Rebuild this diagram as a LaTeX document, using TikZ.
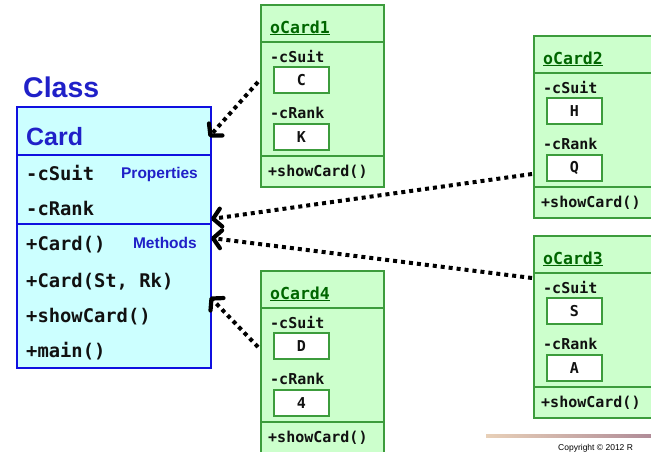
\documentclass[tikz,border=0pt]{standalone}
\usepackage{fontspec}
\setmainfont{Liberation Sans}
\newfontfamily\codefont{DejaVu Sans Mono}
\usetikzlibrary{arrows.meta}

\definecolor{classfill}{HTML}{CCFFFF}
\definecolor{classline}{HTML}{1010E0}
\definecolor{classblue}{HTML}{2020C8}
\definecolor{objfill}{HTML}{CCFFCC}
\definecolor{objline}{HTML}{3C9C3C}
\definecolor{objtitle}{HTML}{006600}
\definecolor{codeink}{HTML}{111111}
\definecolor{barleft}{HTML}{E8D0B8}
\definecolor{barright}{HTML}{B08C98}

\tikzset{
  classbox/.style={draw=classline, fill=classfill, line width=2pt, inner sep=0pt},
  objbox/.style={draw=objline, fill=objfill, line width=2pt, inner sep=0pt},
  objrule/.style={draw=objline, line width=2pt},
  classrule/.style={draw=classline, line width=2pt},
  valbox/.style={draw=objline, fill=white, line width=2.6pt, minimum width=55pt,
    minimum height=26pt, inner sep=0pt, font=\codefont\bfseries\fontsize{15}{17}\selectfont, text=codeink},
  heading/.style={inner sep=0pt, anchor=base west, text=classblue, font=\bfseries\fontsize{28.5}{32}\selectfont},
  classname/.style={inner sep=0pt, anchor=base west, text=classblue, font=\bfseries\fontsize{25}{28}\selectfont},
  tag/.style={inner sep=0pt, anchor=base east, text=classblue, font=\bfseries\fontsize{15.5}{18}\selectfont},
  member/.style={inner sep=0pt, anchor=base west, text=codeink, font=\codefont\bfseries\fontsize{18.8}{22}\selectfont},
  field/.style={inner sep=0pt, anchor=base west, text=codeink, font=\codefont\bfseries\fontsize{15}{17}\selectfont},
  objname/.style={inner sep=0pt, anchor=base west, text=objtitle, font=\codefont\bfseries\fontsize{16.5}{19}\selectfont},
  link/.style={line width=4pt, dash pattern=on 4pt off 4pt,
    -{Straight Barb[length=8pt,width=18pt,line width=4.2pt,round]}},
}

% One object instance: name, left x, top y, title, suit, rank
\newcommand\objcard[6]{%
  \begin{scope}[shift={(#2,#3)}]
    \node[objbox, anchor=north west, minimum width=123pt, minimum height=182pt] (#1) at (0,0) {};
    \draw[objrule] (0,38) -- (123,38);
    \draw[objrule] (0,152) -- (123,152);
    \node[objname] (#1-title) at (10,29) {\underline{#4}};
    \node[field] (#1-suitlabel) at (10,58) {-cSuit};
    \node[valbox] (#1-suit) at (41.5,76) {#5};
    \node[field] (#1-ranklabel) at (10,114) {-cRank};
    \node[valbox] (#1-rank) at (41.5,133) {#6};
    \node[field] (#1-method) at (8,172) {+showCard()};
  \end{scope}}

\begin{document}
\begin{tikzpicture}[x=1pt,y=-1pt]
  \useasboundingbox (0,0) rectangle (651,451);
  \clip (0,0) rectangle (651,451);

  % the class
  \node[heading] (classlabel) at (23,97) {Class};
  \node[classbox, anchor=north west, minimum width=194pt, minimum height=261pt] (card) at (16,106) {};
  \draw[classrule] (16,155) -- (210,155);
  \draw[classrule] (16,224) -- (210,224);
  \node[classname] (cardname) at (26,145) {Card};
  \node[member] (m1) at (26,180) {-cSuit};
  \node[member] (m2) at (26,215) {-cRank};
  \node[member] (m3) at (26,250) {+Card()};
  \node[member] (m4) at (26,287) {+Card(St, Rk)};
  \node[member] (m5) at (26,322) {+showCard()};
  \node[member] (m6) at (26,357) {+main()};
  \node[tag] (props) at (198,178) {Properties};
  \node[tag] (meths) at (197,248) {Methods};

  % the objects
  \objcard{o1}{260}{4}{oCard1}{C}{K}
  \objcard{o2}{533}{35}{oCard2}{H}{Q}
  \objcard{o3}{533}{235}{oCard3}{S}{A}
  \objcard{o4}{260}{270}{oCard4}{D}{4}

  % instance-of links
  \coordinate (s1) at (258,82);
  \coordinate (e1) at (209,137);
  \coordinate (s2) at (532,174);
  \coordinate (e2) at (211,219);
  \coordinate (s3) at (532,278);
  \coordinate (e3) at (211,238);
  \coordinate (s4) at (258,347);
  \coordinate (e4) at (210,297);
  \draw[link] (s1) -- (e1);
  \draw[link] (s2) -- (e2);
  \draw[link] (s3) -- (e3);
  \draw[link] (s4) -- (e4);

  % footer
  \shade[left color=barleft, right color=barright] (486,434) rectangle (651,437.5);
  \node[inner sep=0pt, anchor=base west, font=\fontsize{8.5}{10}\selectfont] (copy) at (558,450) {Copyright © 2012  R};
\end{tikzpicture}
\end{document}
